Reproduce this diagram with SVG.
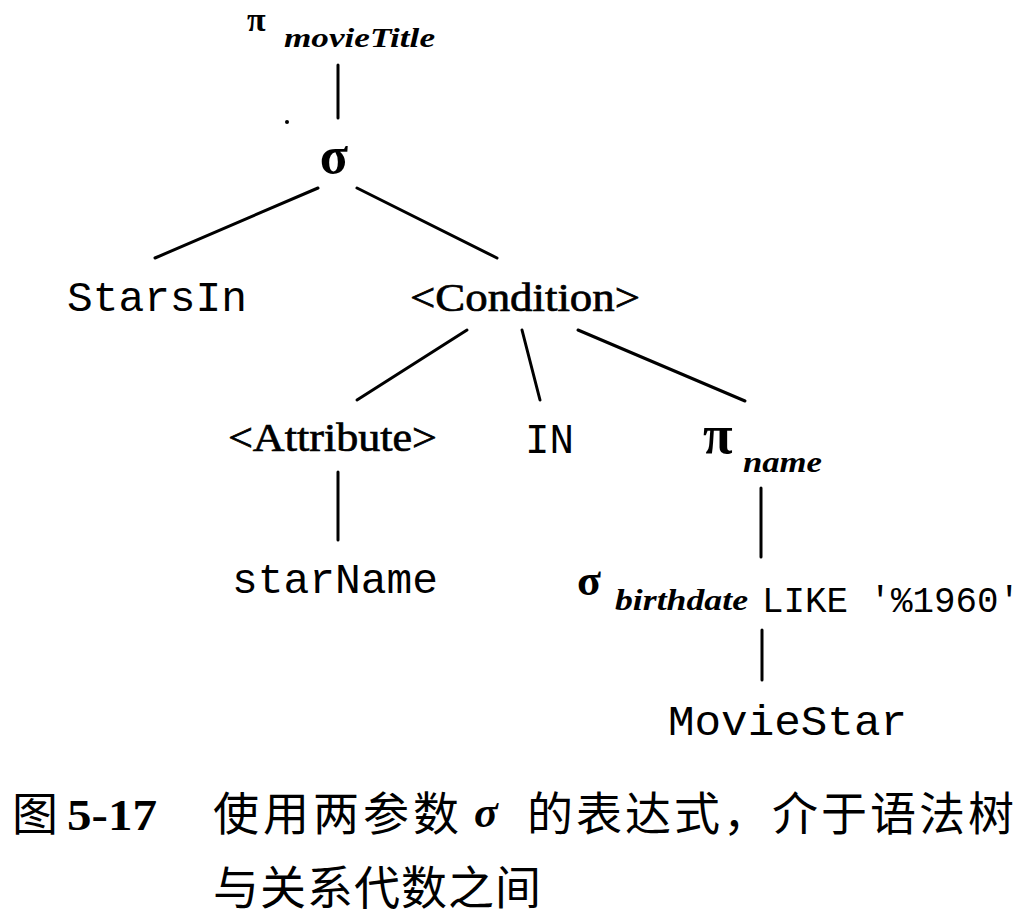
<svg xmlns="http://www.w3.org/2000/svg" width="1028" height="918" viewBox="0 0 1028 918">
<style>
.op{font-family:"Liberation Serif",serif;font-weight:bold;fill:#000}
.sub{font-family:"Liberation Serif",serif;font-weight:bold;font-style:italic;fill:#000}
.nt{font-family:"Liberation Serif",serif;fill:#000;stroke:#000;stroke-width:0.7}
.mono{font-family:"Liberation Mono",monospace;fill:#000}
.cap{font-family:"Noto Sans CJK SC",sans-serif;fill:#000}
.capn{font-family:"Liberation Serif","Noto Sans CJK SC",serif;font-weight:bold;fill:#000}
.edge{stroke:#000;stroke-width:3;stroke-linecap:round;fill:none}
</style>
<rect width="1028" height="918" fill="#fff"/>
<g id="connectors">
<line class="edge" x1="338" y1="65" x2="338" y2="118"/>
<line class="edge" x1="318" y1="188" x2="155" y2="258"/>
<line class="edge" x1="357" y1="188" x2="497" y2="258"/>
<line class="edge" x1="467" y1="330" x2="357" y2="400"/>
<line class="edge" x1="522" y1="330" x2="540" y2="400"/>
<line class="edge" x1="578" y1="330" x2="745" y2="401"/>
<line class="edge" x1="338" y1="472" x2="338" y2="540"/>
<line class="edge" x1="761" y1="488" x2="761" y2="557"/>
<line class="edge" x1="762" y1="630" x2="762" y2="680"/>
</g>
<circle cx="287" cy="122" r="2" fill="#000"/>
<g id="proj-movieTitle">
<text class="op" x="247" y="31" font-size="34">π</text>
<text class="sub" x="284" y="47" font-size="28" textLength="151" lengthAdjust="spacingAndGlyphs">movieTitle</text>
</g>
<g id="select">
<text class="op" x="334" y="173" font-size="52" text-anchor="middle">σ</text>
</g>
<g id="StarsIn">
<text class="mono" x="67" y="311" font-size="42" textLength="180" lengthAdjust="spacingAndGlyphs">StarsIn</text>
</g>
<g id="Condition">
<text class="nt" x="410" y="311" font-size="41" textLength="230" lengthAdjust="spacingAndGlyphs">&lt;Condition&gt;</text>
</g>
<g id="Attribute">
<text class="nt" x="228" y="451" font-size="41" textLength="209" lengthAdjust="spacingAndGlyphs">&lt;Attribute&gt;</text>
</g>
<g id="IN">
<text class="mono" x="525" y="453" font-size="42" textLength="49" lengthAdjust="spacingAndGlyphs">IN</text>
</g>
<g id="proj-name">
<text class="op" x="703" y="453" font-size="54">π</text>
<text class="sub" x="743" y="472" font-size="30" textLength="79" lengthAdjust="spacingAndGlyphs">name</text>
</g>
<g id="starName">
<text class="mono" x="232" y="593" font-size="42" textLength="206" lengthAdjust="spacingAndGlyphs">starName</text>
</g>
<g id="select-birthdate">
<text class="op" x="577" y="595" font-size="44">σ</text>
<text class="sub" x="615" y="610" font-size="30" textLength="133" lengthAdjust="spacingAndGlyphs">birthdate</text>
<text class="mono" x="762" y="612" font-size="36" textLength="258" lengthAdjust="spacingAndGlyphs">LIKE '%1960'</text>
</g>
<g id="MovieStar">
<text class="mono" x="668" y="735" font-size="42" textLength="239" lengthAdjust="spacingAndGlyphs">MovieStar</text>
</g>
<g id="caption">
<text class="cap" x="12" y="830" font-size="46">图</text>
<text class="capn" x="67" y="830" font-size="44" textLength="90" lengthAdjust="spacingAndGlyphs">5-17</text>
<text class="cap" x="213" y="830" font-size="46" letter-spacing="4">使用两参数</text>
<text class="sub" x="474" y="827" font-size="44">σ</text>
<text class="cap" x="527" y="830" font-size="46" letter-spacing="3">的表达式，介于语法树</text>
<text class="cap" x="213" y="904" font-size="46" letter-spacing="1">与关系代数之间</text>
</g>
</svg>
